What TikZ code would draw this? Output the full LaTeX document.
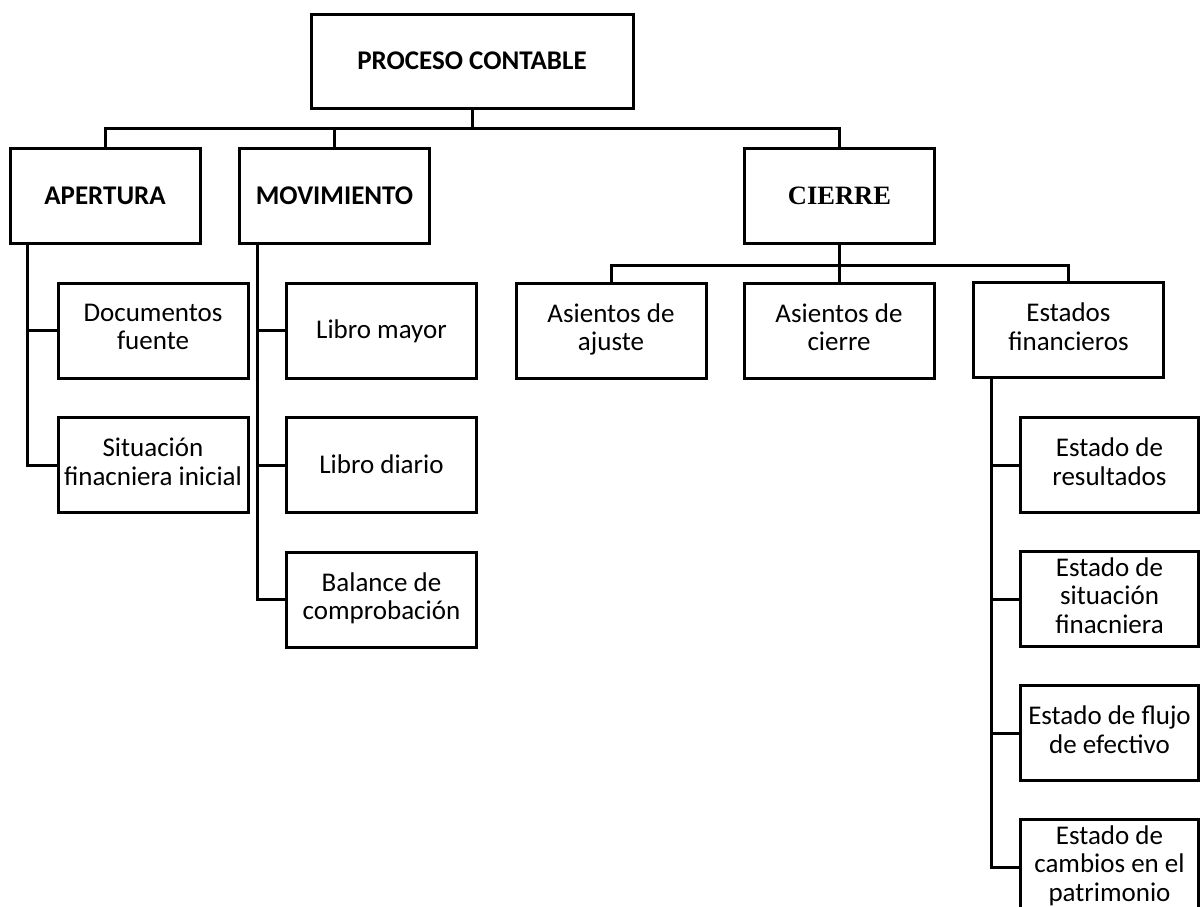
\documentclass[tikz,border=0pt]{standalone}
\usepackage{fontspec}
\usepackage{tikz}
\setmainfont{Carlito}
\newfontfamily\serifbold{Liberation Serif}

\begin{document}
\begin{tikzpicture}[x=1pt,y=-1pt,
  caja/.style={draw=black,line width=3pt,fill=white,align=center,inner sep=0pt,
    minimum width=190pt,minimum height=95pt,font=\fontsize{27}{28.5}\selectfont,
    execute at begin node=\rule{0pt}{23pt},execute at end node=\rule[-7pt]{0pt}{7pt}},
  titulo/.style={caja,font=\fontsize{27}{28.5}\selectfont\bfseries},
  estado/.style={caja,minimum width=178pt},
  linea/.style={line width=3pt,line cap=rect}]
\useasboundingbox (0,0) rectangle (1200,907);
\clip (0,0) rectangle (1200,907);
\fill[white] (0,0) rectangle (1200,907);

%% primer nivel
\node[titulo,minimum width=322pt,minimum height=93pt] (proceso) at (472,61.5) {PROCESO CONTABLE};
\node[titulo] (apertura) at (105,196) {APERTURA};
\node[titulo] (movimiento) at (334.5,196) {MOVIMIENTO};
\node[caja,font=\fontsize{26.5}{28.5}\selectfont\serifbold\bfseries] (cierre) at (839.5,196) {CIERRE};

%% apertura
\node[caja] (documentos) at (153,330.5) {Documentos\\fuente};
\node[caja] (situacion) at (153,465) {Situación\\finacniera inicial};

%% movimiento
\node[caja] (mayor) at (381.5,330.5) {Libro mayor};
\node[caja] (diario) at (381.5,465) {Libro diario};
\node[caja] (balance) at (381.5,599.5) {Balance de\\comprobación};

%% cierre
\node[caja] (ajuste) at (611,330.5) {Asientos de\\ajuste};
\node[caja] (asientos) at (839,330.5) {Asientos de\\cierre};
\node[caja] (estados) at (1068.5,330) {Estados\\financieros};

%% estados financieros
\node[estado] (resultados) at (1109.5,465) {Estado de\\resultados};
\node[estado] (situacionfin) at (1109.5,599) {Estado de\\situación\\finacniera};
\node[estado] (flujo) at (1109.5,733) {Estado de flujo\\de efectivo};
\node[estado] (cambios) at (1109.5,867) {Estado de\\cambios en el\\patrimonio};

%% conectores
\coordinate (bus) at (472,128);
\draw[linea] (proceso.south) -- (bus);
\draw[linea] (apertura.north) |- (bus) -| (cierre.north);
\draw[linea] (movimiento.north) -- (movimiento.north |- bus);

\coordinate (apv) at ([xshift=19pt]apertura.south west);
\draw[linea] (apv) |- (situacion.west);
\draw[linea] (documentos.west) -- (documentos.west -| apv);

\coordinate (mov) at ([xshift=19pt]movimiento.south west);
\draw[linea] (mov) |- (balance.west);
\draw[linea] (mayor.west) -- (mayor.west -| mov);
\draw[linea] (diario.west) -- (diario.west -| mov);

\coordinate (bus2) at ([yshift=-20pt]cierre.south);
\draw[linea] (cierre.south) -- (bus2);
\draw[linea] (ajuste.north) |- (bus2) -| (estados.north);
\draw[linea] (asientos.north) -- (asientos.north |- bus2);

\coordinate (efv) at ([xshift=19pt]estados.south west);
\draw[linea] (efv) |- (cambios.west);
\draw[linea] (resultados.west) -- (resultados.west -| efv);
\draw[linea] (situacionfin.west) -- (situacionfin.west -| efv);
\draw[linea] (flujo.west) -- (flujo.west -| efv);
\end{tikzpicture}
\end{document}
